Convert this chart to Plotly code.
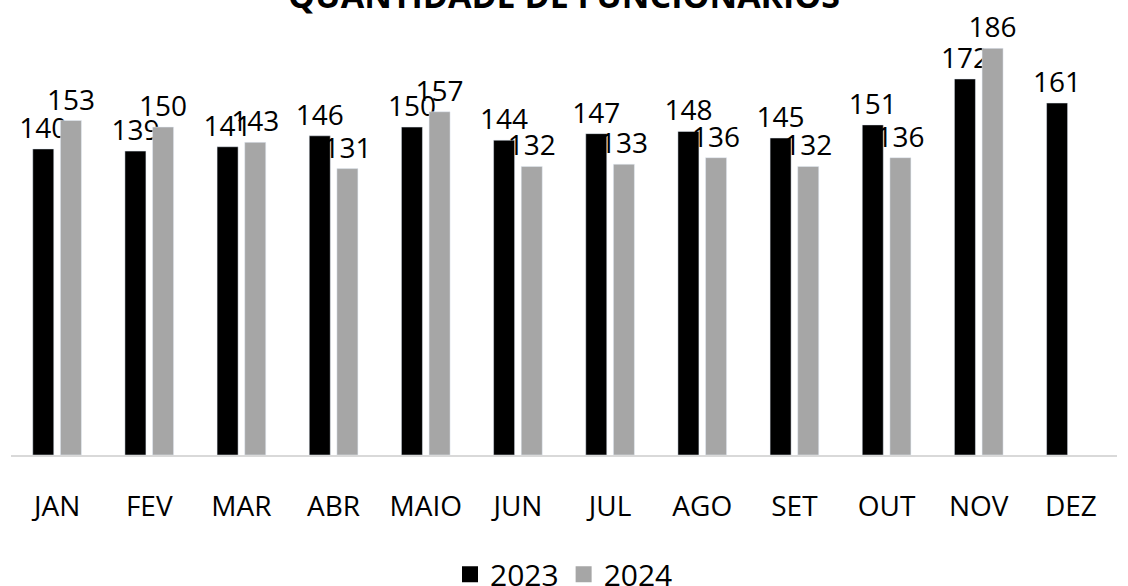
import plotly.graph_objects as go

months = ["JAN", "FEV", "MAR", "ABR", "MAIO", "JUN", "JUL", "AGO", "SET", "OUT", "NOV", "DEZ"]
v2023 = [140, 139, 141, 146, 150, 144, 147, 148, 145, 151, 172, 161]
v2024 = [153, 150, 143, 131, 157, 132, 133, 136, 132, 136, 186, None]
series_names = ["2023", "2024"]
colors = ["#000000", "#A6A6A6"]
chart_title = "QUANTIDADE DE FUNCIONÁRIOS"

FONT = "Open Sans"

fig = go.Figure()
for name, vals, col in zip(series_names, [v2023, v2024], colors):
    fig.add_trace(go.Bar(
        x=months, y=vals, name=name, marker_color=col, showlegend=False,
        text=[("" if v is None else str(v)) for v in vals], textposition="outside",
        constraintext="none", textfont=dict(size=28, color="#000000", family=FONT),
        cliponaxis=False, legendgroup=name,
    ))
# legend entries with larger square swatches
for name, col in zip(series_names, colors):
    fig.add_trace(go.Scatter(
        x=[None], y=[None], mode="markers", name=name, legendgroup=name,
        marker=dict(symbol="square", size=18, color=col), showlegend=True,
    ))

fig.add_annotation(text="<b>" + chart_title + "</b>", xref="paper", yref="paper",
                   x=0.5, xanchor="center", y=1.082, yanchor="middle", showarrow=False,
                   font=dict(size=34, family=FONT, color="#000000"))

fig.update_layout(
    width=1128, height=586,
    paper_bgcolor="white", plot_bgcolor="white",
    margin=dict(l=11, r=11, t=30, b=131, autoexpand=False),
    barmode="group", bargap=0.40, bargroupgap=0.24,
    font=dict(family=FONT, color="#000000"),
    legend=dict(orientation="h", x=0.5, xanchor="center", xref="container",
                y=0.02, yref="container", yanchor="middle", itemsizing="trace",
                font=dict(size=30, family=FONT, color="#000000"), itemwidth=30),
    showlegend=True,
)
fig.update_xaxes(showline=True, linecolor="#D9D9D9", linewidth=1.5, ticks="",
                 tickfont=dict(size=28, family=FONT, color="#000000"), ticklabelstandoff=26,
                 showgrid=False)
fig.update_yaxes(visible=False, range=[0, 194.4], showgrid=False)

fig.write_html("out.html", config={"displayModeBar": False},
               post_script="document.body.style.margin='0px';")
